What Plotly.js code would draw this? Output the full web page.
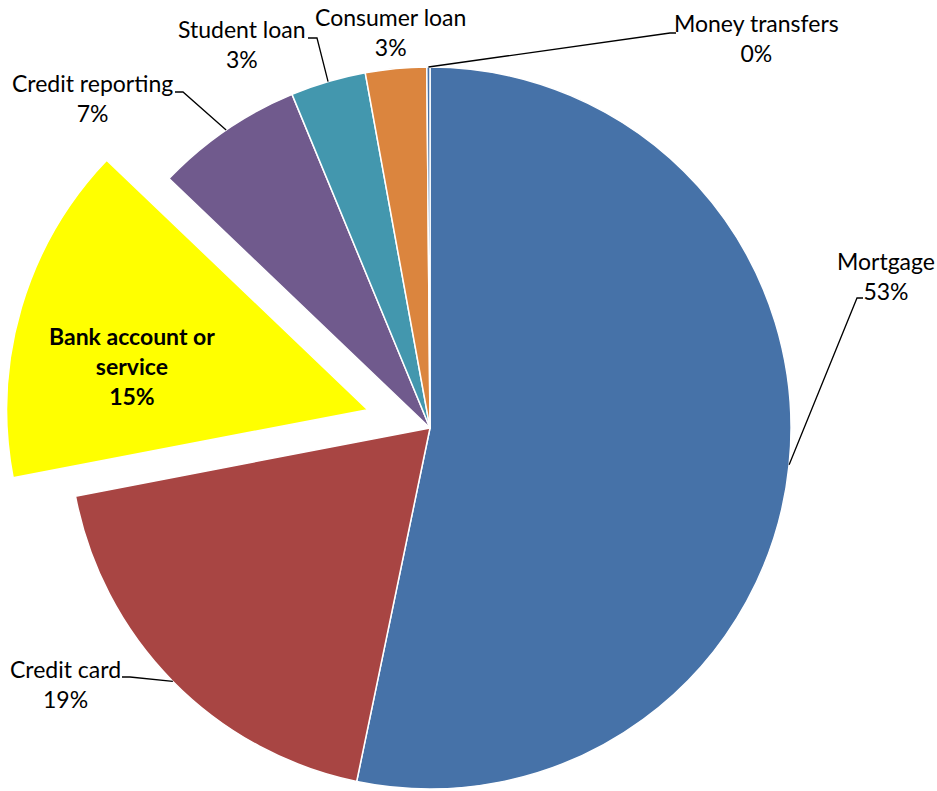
<!DOCTYPE html>
<html><head><meta charset="utf-8">
<script src="https://cdn.plot.ly/plotly-3.0.1.min.js"></script>
<style>
html,body{margin:0;padding:0;background:#fff;overflow:hidden}
#wrap{width:937px;height:791px;overflow:hidden;position:relative}
</style>
</head><body><div id="wrap"><div id="chart"></div></div>
<script>
// ---- data ----
const categories = ["Mortgage","Credit card","Bank account or service","Credit reporting","Student loan","Consumer loan","Money transfers"];
const shares = [53.25, 18.72, 15.16, 6.62, 3.37, 2.73, 0.14];
const sliceColors = ["#4672A8","#A84543","#FFFF00","#705A8D","#4397AE","#DB853E","#4672A8"];
const pulls = [0, 0, 0.18, 0, 0, 0, 0];

// ---- layout geometry ----
const W = 937, H = 854;
const M = {l: 0, r: 77, t: 2, b: 0};
const pw = W - M.l - M.r, ph = H - M.t - M.b;
const cx = M.l + pw / 2, cy = M.t + ph / 2;
const maxPull = Math.max(...pulls);
const R = Math.min(pw, ph) / (2 + 2 * maxPull);
const FS = 23;

// label placement (pixels): center of text block, and leader elbow/end
const labelCfg = {
  "Mortgage":               {x: 886, y: 276, elbow: [857, 298], end: [863, 298]},
  "Credit card":            {x: 65,  y: 684, elbow: [130, 677], end: [122, 677]},
  "Bank account or service":{x: 132, y: 366, bold: true, name: "Bank account or<br>service"},
  "Credit reporting":       {x: 92,  y: 98,  elbow: [183, 92],  end: [175, 92]},
  "Student loan":           {x: 242, y: 44,  elbow: [317, 38],  end: [308, 38]},
  "Consumer loan":          {x: 390, y: 32},
  "Money transfers":        {x: 756, y: 38,  elbow: [670, 33],  end: [676, 33]}
};

const px2x = p => (p - M.l) / pw;
const py2y = p => (M.t + ph - p) / ph;

const total = shares.reduce((a, b) => a + b, 0);
const annotations = [], shapes = [];
let acc = 0;
categories.forEach((c, i) => {
  const frac = shares[i] / total;
  const mid = (acc + frac / 2) * 2 * Math.PI; // clockwise from 12 o'clock
  acc += frac;
  const cfg = labelCfg[c];
  const pct = Math.round(frac * 100) + "%";
  const name = cfg.name || c;
  const txt = cfg.bold ? "<b>" + name + "<br>" + pct + "</b>" : name + "<br>" + pct;
  annotations.push({
    xref: "paper", yref: "paper", x: px2x(cfg.x), y: py2y(cfg.y),
    xanchor: "center", yanchor: "middle", showarrow: false, align: "center",
    text: txt, font: {family: "Lato, 'Open Sans', sans-serif", size: FS, color: "#000"}
  });
  if (cfg.elbow) {
    const ex = cx + R * Math.sin(mid), ey = cy - R * Math.cos(mid);
    const path = "M" + px2x(ex) + "," + py2y(ey) +
                 " L" + px2x(cfg.elbow[0]) + "," + py2y(cfg.elbow[1]) +
                 " L" + px2x(cfg.end[0]) + "," + py2y(cfg.end[1]);
    shapes.push({type: "path", xref: "paper", yref: "paper", path: path,
                 line: {color: "#000", width: 1.3}});
  }
});

const trace = {
  type: "pie", labels: categories, values: shares, sort: false,
  direction: "clockwise", rotation: 0, pull: pulls,
  marker: {colors: sliceColors, line: {color: "#fff", width: 1.5}},
  textinfo: "none", hoverinfo: "label+percent", showlegend: false,
  domain: {x: [0, 1], y: [0, 1]}
};

Plotly.newPlot("chart", [trace], {
  width: W, height: H, margin: M, showlegend: false,
  paper_bgcolor: "#fff", annotations: annotations, shapes: shapes
}, {displayModeBar: false, staticPlot: true});
</script>
</body></html>
